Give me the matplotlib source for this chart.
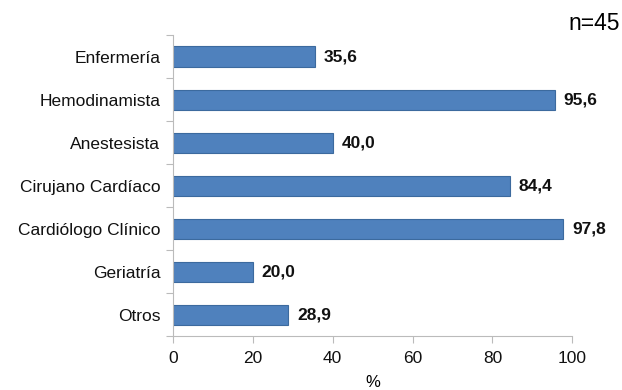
import matplotlib.pyplot as plt

categorias = ["Enfermería", "Hemodinamista", "Anestesista", "Cirujano Cardíaco",
              "Cardiólogo Clínico", "Geriatría", "Otros"]
valores = [35.6, 95.6, 40.0, 84.4, 97.8, 20.0, 28.9]
xticks = [0, 20, 40, 60, 80, 100]

plt.rcParams["font.family"] = ["Liberation Sans", "DejaVu Sans"]

fig = plt.figure(figsize=(6.22, 3.9), dpi=100)
ax = fig.add_axes([0.278, 0.138, 0.642, 0.772])

y = list(range(len(categorias)))
ax.barh(y, valores, height=0.47, color="#4f81bd", edgecolor="#3c6a9e", linewidth=0.8)
for yi, v in zip(y, valores):
    ax.text(v + 2.2, yi, f"{v:.1f}".replace(".", ","), va="center", ha="left",
            fontsize=12.5, fontweight="bold", color="#111111")

ax.set_ylim(len(categorias) - 0.5, -0.5)
ax.set_xlim(0, 100)
ax.set_yticks([i - 0.5 for i in range(len(categorias) + 1)], minor=False)
ax.set_yticklabels([])
ax.set_yticks(y, minor=True)
ax.set_yticklabels(categorias, minor=True, fontsize=12.5, color="#111111")
ax.tick_params(axis="y", which="minor", length=0, pad=9)
ax.tick_params(axis="y", which="major", length=5, color="#bbbbbb")
ax.set_xticks(xticks)
ax.tick_params(axis="x", length=5, color="#bbbbbb", labelsize=12.5, pad=6,
               labelcolor="#111111")
ax.set_xlabel("%", fontsize=12, labelpad=6)

for s in ["top", "right"]:
    ax.spines[s].set_visible(False)
for s in ["left", "bottom"]:
    ax.spines[s].set_color("#bbbbbb")

fig.text(0.997, 0.922, "n=45", ha="right", va="baseline", fontsize=16.5)

fig.savefig("out.png", dpi=100, facecolor="white")
